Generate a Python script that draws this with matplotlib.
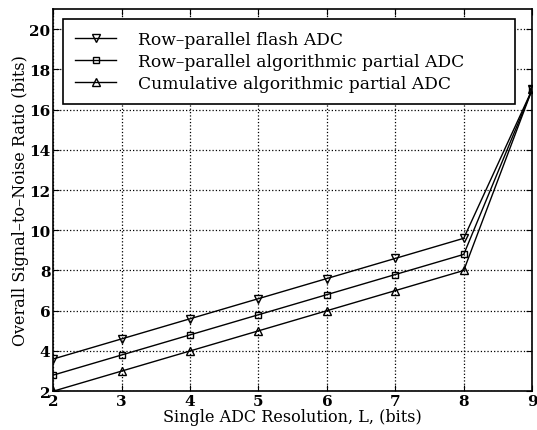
import matplotlib as mpl
import matplotlib.pyplot as plt
import numpy as np

mpl.rcParams["font.family"] = ["DejaVu Serif"]

# data
L = [2, 3, 4, 5, 6, 7, 8, 9]
flash = [3.6, 4.6, 5.6, 6.6, 7.6, 8.6, 9.6, 17.0]
algo_partial = [2.8, 3.8, 4.8, 5.8, 6.8, 7.8, 8.8, 17.0]
cumulative = [2.0, 3.0, 4.0, 5.0, 6.0, 7.0, 8.0, 17.0]
labels = ["Row\u2013parallel flash ADC",
          "Row\u2013parallel algorithmic partial ADC",
          "Cumulative algorithmic partial ADC"]

fig = plt.figure(figsize=(5.37, 4.31), dpi=100)
ax = fig.add_axes([0.099, 0.09, 0.892, 0.887])

ax.plot(L, flash, "k-", marker="v", mfc="none", ms=5.5, lw=1.0, label=labels[0])
ax.plot(L, algo_partial, "k-", marker="s", mfc="none", ms=4.5, lw=1.0, label=labels[1])
ax.plot(L, cumulative, "k-", marker="^", mfc="none", ms=5.5, lw=1.0, label=labels[2])

ax.set_xlim(2, 9)
ax.set_ylim(2, 21)
ax.set_xticks(range(2, 10))
ax.set_yticks(range(2, 21, 2))
ax.tick_params(direction="in", top=True, right=True, labelsize=11, length=4, pad=2)
for t in ax.get_xticklabels() + ax.get_yticklabels():
    t.set_fontweight("bold")
ax.grid(True, ls=":", color="k", lw=0.9)
for s in ax.spines.values():
    s.set_linewidth(1.2)

ax.set_xlabel("Single ADC Resolution, L, (bits)", fontsize=11.5, labelpad=0)
ax.set_ylabel("Overall Signal\u2013to\u2013Noise Ratio (bits)", fontsize=11.5, labelpad=0)

leg = ax.legend(loc="upper left", fontsize=12.3, frameon=True, fancybox=False,
                edgecolor="k", framealpha=1, handlelength=2.4, handletextpad=1.3,
                borderpad=0.7, labelspacing=0.3, mode="expand", borderaxespad=0,
                bbox_to_anchor=(0.021, 0.974, 0.944, 0.0))
leg.get_frame().set_linewidth(1.2)

fig.savefig("out.png", dpi=100)
